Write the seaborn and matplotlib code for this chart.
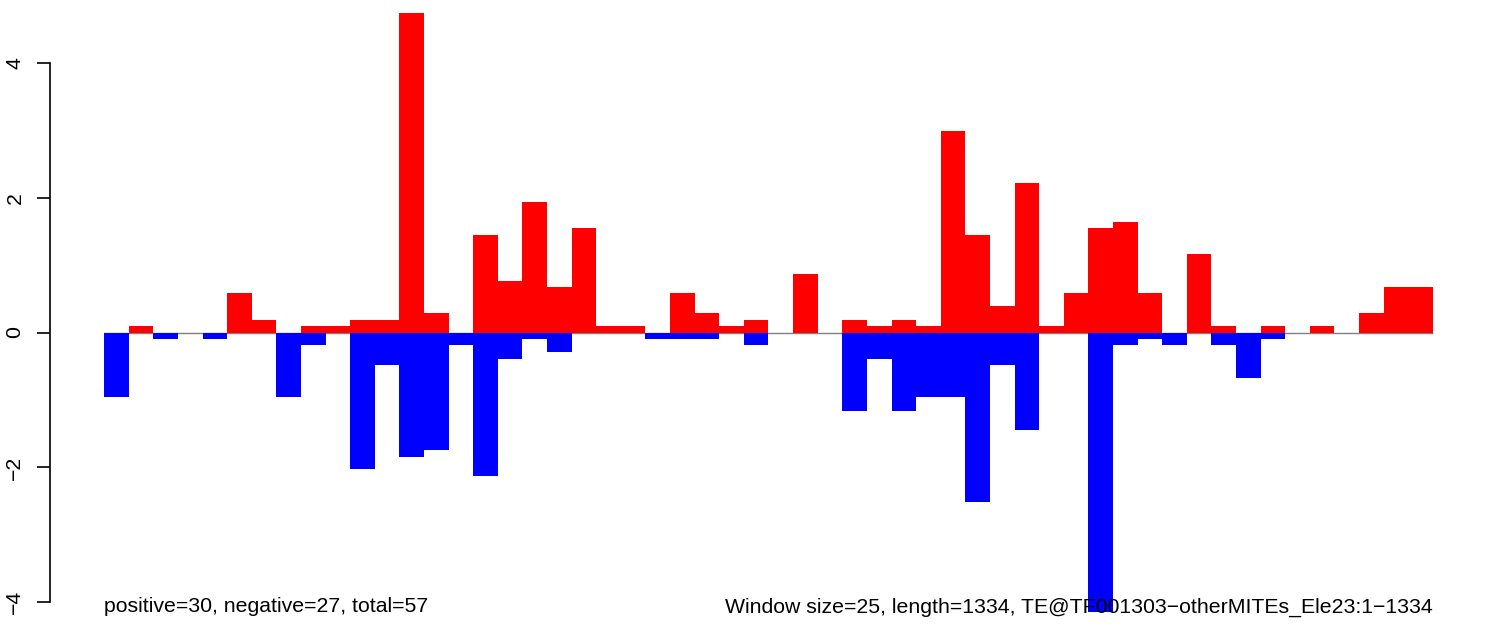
import matplotlib
matplotlib.use("Agg")
import matplotlib.pyplot as plt
import seaborn as sns
import pandas as pd

# ---- data ----
windows = list(range(54))
pos_vals = [0, 0.1, 0, 0, 0, 0.58, 0.19, 0, 0.1, 0.1,
            0.19, 0.19, 4.73, 0.29, 0, 1.45, 0.77, 1.93, 0.68, 1.55,
            0.1, 0.1, 0, 0.58, 0.29, 0.1, 0.19, 0, 0.87, 0,
            0.19, 0.1, 0.19, 0.1, 2.99, 1.45, 0.39, 2.22, 0.1, 0.58,
            1.55, 1.64, 0.58, 0, 1.16, 0.1, 0, 0.1, 0, 0.1,
            0, 0.29, 0.68, 0.68]
neg_vals = [-0.96, 0, -0.1, 0, -0.1, 0, 0, -0.96, -0.19, 0,
            -2.03, -0.48, -1.84, -1.74, -0.19, -2.12, -0.39, -0.1, -0.29, 0,
            0, 0, -0.1, -0.1, -0.1, 0, -0.19, 0, 0, 0,
            -1.16, -0.39, -1.16, -0.96, -0.96, -2.51, -0.48, -1.45, 0, 0,
            -4.15, -0.19, -0.1, -0.19, 0, -0.19, -0.68, -0.1, 0, 0,
            0, 0, 0, 0]
y_ticks = [-4, -2, 0, 2, 4]
left_note = "positive=30, negative=27, total=57"
right_note = "Window size=25, length=1334, TE@TF001303\u2212otherMITEs_Ele23:1\u22121334"

df = pd.DataFrame({"window": windows, "pos": pos_vals, "neg": neg_vals})

sns.set_style("white")
plt.rcParams["font.family"] = ["Liberation Sans", "DejaVu Sans"]
plt.rcParams["text.color"] = "black"
plt.rcParams["ytick.color"] = "black"
plt.rcParams["ytick.labelcolor"] = "black"

fig = plt.figure(figsize=(14.98, 6.34), dpi=100)
ax = fig.add_axes([50 / 1498, 0, 1436 / 1498, 1])

sns.barplot(data=df, x="window", y="pos", color="#FF0000", width=1,
            saturation=1, linewidth=0, ax=ax)
sns.barplot(data=df, x="window", y="neg", color="#0000FF", width=1,
            saturation=1, linewidth=0, ax=ax)
ax.hlines(0, -0.5, len(windows) - 0.5, color="#808080", linewidth=1, zorder=0.5)

ax.set_xlim(-2.7, 55.66)
ax.set_ylim(-4.47, 4.93)

# R style axis: only left spine between -4 and 4
for s in ["top", "right", "bottom"]:
    ax.spines[s].set_visible(False)
ax.spines["left"].set_bounds(-4, 4)
ax.spines["left"].set_color("black")
ax.spines["left"].set_linewidth(1.2)
ax.set_xticks([])
ax.set_yticks(y_ticks)
ax.set_yticklabels([str(t).replace("-", "\u2212") for t in y_ticks],
                   rotation=90, va="center", fontsize=15.3)
ax.tick_params(axis="y", direction="out", length=9.4, width=1.2, pad=9, left=True)
ax.set_xlabel("")
ax.set_ylabel("")

ax.text(-0.5, -4.15, left_note, ha="left", va="baseline", fontsize=15.3)
ax.text(53.5, -4.15, right_note, ha="right", va="baseline", fontsize=15.3)

fig.savefig("out.png", dpi=100)
